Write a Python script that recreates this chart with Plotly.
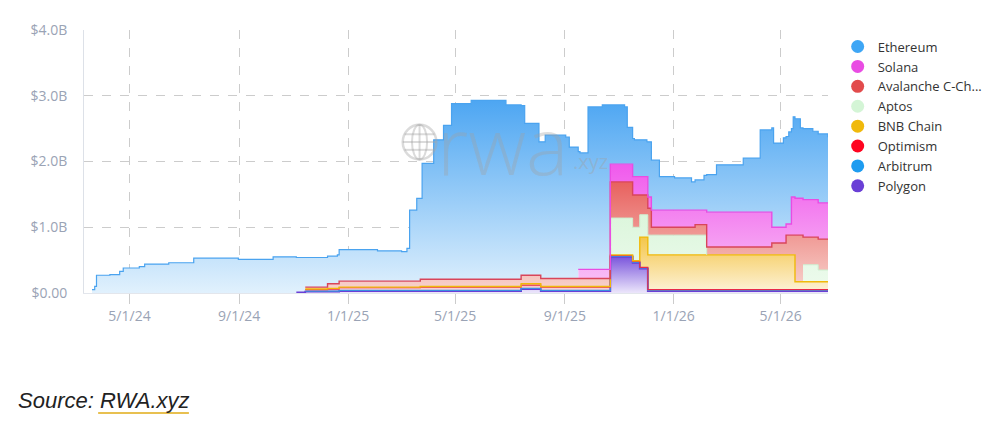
import plotly.graph_objects as go

# Dates (step points)
dates = [
    "2024-03-20", "2024-03-23", "2024-03-25", "2024-04-09", "2024-04-20", "2024-04-24",
    "2024-05-12", "2024-05-18", "2024-06-14", "2024-07-12", "2024-08-31", "2024-10-09",
    "2024-11-04",
    "2024-11-14",
    "2024-12-09", "2024-12-20",
    "2024-12-22", "2025-02-03", "2025-03-02", "2025-03-08", "2025-03-11", "2025-03-19",
    "2025-03-23", "2025-03-25", "2025-04-07", "2025-04-18", "2025-04-27", "2025-05-19", "2025-06-27",
    "2025-07-14", "2025-07-18", "2025-08-03",
    "2025-08-05", "2025-08-10", "2025-09-02", "2025-09-06",
    "2025-09-16", "2025-09-18", "2025-09-27", "2025-10-13",
    "2025-10-22", "2025-11-07", "2025-11-10",
    "2025-11-16", "2025-11-18",
    "2025-11-24", "2025-12-02",
    "2025-12-03",
    "2025-12-07", "2025-12-16", "2026-01-02", "2026-01-21",
    "2026-01-25", "2026-02-04",
    "2026-02-07", "2026-02-18", "2026-03-20", "2026-04-08",
    "2026-04-21", "2026-04-23", "2026-05-04",
    "2026-05-07", "2026-05-10",
    "2026-05-13", "2026-05-15",
    "2026-05-17", "2026-05-23",
    "2026-05-26", "2026-06-06",
    "2026-06-12", "2026-06-23",
]

# Values in $B per chain (own value, stacked in the chart)
polygon = [
    0, 0, 0, 0, 0, 0, 0, 0, 0, 0, 0, 0,
    0.01,
    0.02,
    0.02, 0.02,
    0.03, 0.03, 0.03, 0.03, 0.03, 0.03,
    0.03, 0.03, 0.03, 0.03, 0.03, 0.03, 0.03,
    0.06, 0.06, 0.06,
    0.03, 0.03, 0.03, 0.03,
    0.03, 0.03, 0.03, 0.03,
    0.55, 0.55, 0.55,
    0.46, 0.46,
    0.37, 0.37,
    0.03,
    0.03, 0.03, 0.03, 0.03,
    0.03, 0.03,
    0.03, 0.03, 0.03, 0.03,
    0.03, 0.03, 0.03,
    0.03, 0.03,
    0.03, 0.03,
    0.03, 0.03,
    0.03, 0.03,
    0.03, 0.03,
]
arbitrum = [
    0, 0, 0, 0, 0, 0, 0, 0, 0, 0, 0, 0,
    0,
    0.01,
    0.01, 0.01,
    0.01, 0.01, 0.01, 0.01, 0.01, 0.01,
    0.01, 0.01, 0.01, 0.01, 0.01, 0.01, 0.01,
    0.01, 0.01, 0.01,
    0.01, 0.01, 0.01, 0.01,
    0.01, 0.01, 0.01, 0.01,
    0.01, 0.01, 0.01,
    0.01, 0.01,
    0.01, 0.01,
    0.01,
    0.01, 0.01, 0.01, 0.01,
    0.01, 0.01,
    0.01, 0.01, 0.01, 0.01,
    0.01, 0.01, 0.01,
    0.01, 0.01,
    0.01, 0.01,
    0.01, 0.01,
    0.01, 0.01,
    0.01, 0.01,
]
optimism = [
    0, 0, 0, 0, 0, 0, 0, 0, 0, 0, 0, 0,
    0,
    0.02,
    0.03, 0.03,
    0.04, 0.04, 0.04, 0.04, 0.04, 0.04,
    0.05, 0.05, 0.05, 0.05, 0.05, 0.05, 0.05,
    0.05, 0.05, 0.05,
    0.05, 0.05, 0.05, 0.05,
    0.05, 0.05, 0.05, 0.05,
    0.01, 0.01, 0.01,
    0.01, 0.01,
    0.01, 0.01,
    0.01,
    0.01, 0.01, 0.01, 0.01,
    0.01, 0.01,
    0.01, 0.01, 0.01, 0.01,
    0.01, 0.01, 0.01,
    0.01, 0.01,
    0.01, 0.01,
    0.01, 0.01,
    0.01, 0.01,
    0.01, 0.01,
]
bnb = [
    0, 0, 0, 0, 0, 0, 0, 0, 0, 0, 0, 0,
    0,
    0.01,
    0.01, 0.01,
    0.01, 0.01, 0.01, 0.01, 0.01, 0.01,
    0.01, 0.01, 0.01, 0.01, 0.01, 0.01, 0.01,
    0.02, 0.02, 0.02,
    0.01, 0.01, 0.01, 0.01,
    0.01, 0.01, 0.01, 0.01,
    0.01, 0.01, 0.01,
    0.01, 0.01,
    0.46, 0.46,
    0.53,
    0.53, 0.53, 0.53, 0.53,
    0.53, 0.53,
    0.53, 0.53, 0.53, 0.53,
    0.53, 0.53, 0.53,
    0.53, 0.53,
    0.53, 0.53,
    0.12, 0.12,
    0.12, 0.12,
    0.12, 0.12,
]
aptos = [
    0, 0, 0, 0, 0, 0, 0, 0, 0, 0, 0, 0,
    0,
    0,
    0, 0,
    0, 0, 0, 0, 0, 0,
    0, 0, 0, 0, 0, 0, 0,
    0, 0, 0,
    0, 0, 0, 0,
    0, 0, 0, 0,
    0.56, 0.56, 0.56,
    0.51, 0.51,
    0.34, 0.34,
    0.30,
    0.30, 0.30, 0.30, 0.30,
    0.30, 0.30,
    0, 0, 0, 0,
    0, 0, 0,
    0, 0,
    0, 0,
    0, 0,
    0.26, 0.26,
    0.18, 0.18,
]
avalanche = [
    0, 0, 0, 0, 0, 0, 0, 0, 0, 0, 0, 0,
    0,
    0.03,
    0.07, 0.07,
    0.09, 0.09, 0.09, 0.09, 0.09, 0.09,
    0.11, 0.11, 0.11, 0.11, 0.11, 0.11, 0.11,
    0.13, 0.13, 0.13,
    0.12, 0.12, 0.12, 0.12,
    0.12, 0.12, 0.12, 0.12,
    0.55, 0.55, 0.55,
    0.49, 0.49,
    0.30, 0.30,
    0.41,
    0.12, 0.12, 0.12, 0.12,
    0.16, 0.16,
    0.12, 0.12, 0.12, 0.12,
    0.18, 0.18, 0.18,
    0.30, 0.30,
    0.30, 0.30,
    0.71, 0.71,
    0.42, 0.42,
    0.47, 0.47,
]
solana = [
    0, 0, 0, 0, 0, 0, 0, 0, 0, 0, 0, 0,
    0,
    0,
    0, 0,
    0, 0, 0, 0, 0, 0,
    0, 0, 0, 0, 0, 0, 0,
    0, 0, 0,
    0, 0, 0, 0,
    0.14, 0.14, 0.14, 0.14,
    0.27, 0.27, 0.27,
    0.28, 0.28,
    0.28, 0.28,
    0.17,
    0.26, 0.26, 0.26, 0.26,
    0.22, 0.22,
    0.53, 0.53, 0.53, 0.53,
    0.24, 0.24, 0.24,
    0.17, 0.17,
    0.58, 0.58,
    0.56, 0.56,
    0.57, 0.57,
    0.55, 0.55,
]
ethereum = [
    0.05, 0.10, 0.27, 0.28, 0.33, 0.38, 0.40, 0.44, 0.46, 0.53, 0.51, 0.55,
    0.53,
    0.45,
    0.42, 0.44,
    0.48, 0.46, 0.45, 0.50, 1.08, 1.26,
    1.23, 1.76, 2.12, 2.34, 2.67, 2.72, 2.65,
    2.58, 2.31, 2.03,
    2.08, 2.18, 2.15, 2.00,
    1.79, 1.77, 2.47, 2.50,
    0.90, 0.87, 0.56,
    0.58, 0.56,
    0.56, 0.53,
    0.84,
    0.76, 0.51, 0.49, 0.43,
    0.46, 0.53,
    0.57, 0.72, 0.82, 1.25,
    1.51, 1.28, 1.36,
    1.33, 1.40,
    1.04, 1.22,
    1.21, 1.07,
    1.08, 1.04,
    1.05, 1.00,
]

y_ticks = [0, 1, 2, 3, 4]
y_labels = ["$0.00", "$1.0B", "$2.0B", "$3.0B", "$4.0B"]
x_ticks = ["2024-05-01", "2024-09-01", "2025-01-01", "2025-05-01", "2025-09-01", "2026-01-01", "2026-05-01"]
x_labels = ["5/1/24", "9/1/24", "1/1/25", "5/1/25", "9/1/25", "1/1/26", "5/1/26"]

# bottom -> top of the stack: (name, values, line colour, line width, fill bottom, fill top)
layers = [
    ("Polygon", polygon, "#6a3fd6", 1.8, "#ece6fb", "#7b56dc"),
    ("Arbitrum", arbitrum, "#3b8fe0", 1.2, "#d5ecfc", "#40aaf2"),
    ("Optimism", optimism, "#e8294a", 1.2, "#f8e0e4", "#f2445a"),
    ("BNB Chain", bnb, "#f0b90b", 1.4, "#fdf3da", "#f4c64a"),
    ("Aptos", aptos, "#cdeecf", 1.0, "#eefbee", "#dcf6dc"),
    ("Avalanche C-Ch...", avalanche, "#d9455a", 1.4, "#f8d6d0", "#e8615e"),
    ("Solana", solana, "#e94ce3", 1.4, "#f9c8f6", "#f059ec"),
    ("Ethereum", ethereum, "#4aa3ef", 1.2, "#e1f1fd", "#4da6f2"),
]
legend_colors = {
    "Ethereum": "#3ea6f5", "Solana": "#e94ce3", "Avalanche C-Ch...": "#e24b4c",
    "Aptos": "#d4f5d6", "BNB Chain": "#f0b90b", "Optimism": "#ff0420",
    "Arbitrum": "#1e9cf0", "Polygon": "#6a3fd6",
}

fig = go.Figure()

# stacked fills (no outline, outlines are drawn separately so empty layers leave no line)
for name, vals, lc, lw, c0, c1 in layers:
    fig.add_trace(go.Scatter(
        x=dates, y=vals, name=name, stackgroup="chains", mode="lines",
        line=dict(width=0, shape="hv"),
        fillgradient=dict(type="vertical", colorscale=[[0, c0], [1, c1]]),
        showlegend=False, hoverinfo="skip",
    ))

# top edge of each layer, only where the layer has a value
base = [0.0] * len(dates)
for name, vals, lc, lw, c0, c1 in layers:
    top = [b + v for b, v in zip(base, vals)]
    edge = [t if (v > 0 or (i > 0 and vals[i - 1] > 0)) else None
            for i, (t, v) in enumerate(zip(top, vals))]
    fig.add_trace(go.Scatter(
        x=dates, y=edge, mode="lines", line=dict(color=lc, width=lw, shape="hv"),
        showlegend=False, hoverinfo="skip", connectgaps=False,
    ))
    base = top

# legend with round markers, top to bottom
for name, vals, lc, lw, c0, c1 in reversed(layers):
    fig.add_trace(go.Scatter(
        x=[None], y=[None], mode="markers", name=name,
        marker=dict(size=13, color=legend_colors[name], symbol="circle"),
    ))

# watermark globe
gx, gy, rx, ry = 0.451, 0.574, 0.0226, 0.066
wm = "rgba(165,165,165,0.4)"
fig.add_shape(type="circle", xref="paper", yref="paper",
              x0=gx - rx, x1=gx + rx, y0=gy - ry, y1=gy + ry, line=dict(color=wm, width=2.5))
fig.add_shape(type="circle", xref="paper", yref="paper",
              x0=gx - rx * 0.45, x1=gx + rx * 0.45, y0=gy - ry, y1=gy + ry, line=dict(color=wm, width=2))
for dy in [-0.45, 0, 0.45]:
    half = rx * (1 - dy * dy) ** 0.5
    fig.add_shape(type="line", xref="paper", yref="paper",
                  x0=gx - half, x1=gx + half, y0=gy + dy * ry, y1=gy + dy * ry, line=dict(color=wm, width=2))
fig.add_shape(type="line", xref="paper", yref="paper",
              x0=gx, x1=gx, y0=gy - ry, y1=gy + ry, line=dict(color=wm, width=2))

fig.add_annotation(text="rwa", xref="paper", yref="paper", x=0.472, y=0.57,
                   xanchor="left", yanchor="middle", showarrow=False,
                   font=dict(family="Open Sans", size=80, color="rgba(160,160,160,0.35)", weight=300))
fig.add_annotation(text=".xyz", xref="paper", yref="paper", x=0.655, y=0.50,
                   xanchor="left", yanchor="middle", showarrow=False,
                   font=dict(family="Open Sans", size=20, color="rgba(160,160,160,0.4)"))

# source line
fig.add_annotation(text="<i>Source: RWA.xyz</i>", xref="paper", yref="paper",
                   x=-0.092, y=-0.41, xanchor="left", yanchor="middle", showarrow=False,
                   font=dict(family="Liberation Sans", size=22, color="#222222"))
fig.add_shape(type="line", xref="paper", yref="paper", x0=0.019, x1=0.141, y0=-0.456, y1=-0.456,
              line=dict(color="#e8c050", width=2))

fig.update_layout(
    width=992, height=416,
    margin=dict(l=76, r=165, t=22, b=131),
    paper_bgcolor="white", plot_bgcolor="white",
    font=dict(family="Open Sans", color="#9aa3b5"),
    legend=dict(x=1.013, y=0.994, xanchor="left", yanchor="top",
                font=dict(size=13, color="#333333"), traceorder="normal",
                itemclick=False),
    hovermode="x unified",
)
fig.update_xaxes(
    range=["2024-03-11", "2026-06-23"], tickvals=x_ticks, ticktext=x_labels,
    showgrid=True, gridcolor="#cccccc", griddash="dash", gridwidth=1,
    ticks="outside", ticklen=10, tickcolor="#cccccc",
    tickfont=dict(size=14, color="#9aa3b5"),
    showline=True, linecolor="#e3e6ec", linewidth=1, zeroline=False,
)
fig.update_yaxes(
    range=[0, 4], tickvals=y_ticks, ticktext=y_labels,
    showgrid=True, gridcolor="#cccccc", griddash="dash", gridwidth=1,
    tickfont=dict(size=14, color="#9aa3b5"), showline=True, linecolor="#dde1e8",
    zeroline=False, ticks="", ticklabelstandoff=13,
)

fig.write_html("out.html")
